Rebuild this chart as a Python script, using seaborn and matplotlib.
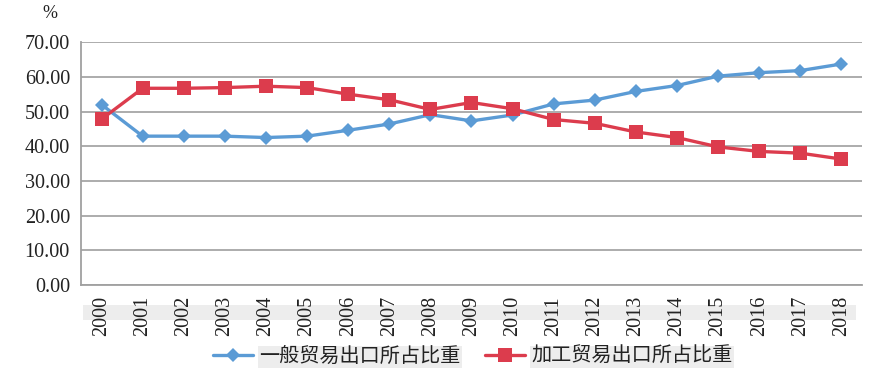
import pandas as pd
import matplotlib.pyplot as plt
import matplotlib.transforms as mtransforms
from matplotlib.patches import Rectangle
from matplotlib.ticker import FixedLocator
import seaborn as sns

# Data
years = list(range(2000, 2019))
general_share = [52.0, 42.9, 42.9, 42.9, 42.5, 42.9, 44.6, 46.4, 49.1, 47.3,
                 49.0, 52.2, 53.3, 55.8, 57.5, 60.2, 61.2, 61.8, 63.7]
processing_share = [47.8, 56.7, 56.7, 56.9, 57.3, 56.9, 55.0, 53.4, 50.6, 52.6,
                    50.8, 47.7, 46.6, 44.1, 42.5, 39.8, 38.5, 38.0, 36.3]
series_names = ["一般贸易出口所占比重", "加工贸易出口所占比重"]

df = pd.concat([
    pd.DataFrame({"year": years, "share": general_share, "type": series_names[0]}),
    pd.DataFrame({"year": years, "share": processing_share, "type": series_names[1]}),
])

sns.set_style("white")
plt.rcParams['font.family'] = ['Liberation Serif', 'Noto Sans CJK SC', 'DejaVu Sans']

fig = plt.figure(figsize=(8.92, 3.73), dpi=100)
ax = fig.add_axes([0.0908, 0.236, 0.8755, 0.651])

palette = {series_names[0]: "#5B9BD5", series_names[1]: "#DC3C4D"}
markers = {series_names[0]: "D", series_names[1]: "s"}
sizes = {series_names[0]: 7, series_names[1]: 9.5}

for name in series_names:
    sub = df[df["type"] == name]
    sns.lineplot(data=sub, x="year", y="share", ax=ax, color=palette[name],
                 marker=markers[name], markersize=sizes[name], markeredgewidth=0,
                 linewidth=2.4, label=name, legend=False)

ax.set_xlim(years[0] - 0.5, years[-1] + 0.5)
ax.set_ylim(0, 70)
ax.set_yticks(range(0, 71, 10))
ax.set_yticklabels([f"{v:.2f}" for v in range(0, 71, 10)])
ax.set_xticks(years)
ax.set_xticklabels([str(y) for y in years], rotation=90)
ax.xaxis.set_minor_locator(FixedLocator([y - 0.5 for y in years] + [years[-1] + 0.5]))
ax.tick_params(axis="x", which="major", length=0, pad=8, labelsize=14.5, colors="#222222")
ax.tick_params(axis="x", which="minor", length=5, width=1.2, color="#999999", direction="out")
ax.tick_params(axis="y", length=5, width=1.2, color="#999999", direction="out", labelsize=14.5,
               labelcolor="#222222", pad=3)
ax.set_xlabel("")
ax.set_ylabel("")

ax.grid(axis="y", color="#A6A6A6", linewidth=1.3)
ax.set_axisbelow(True)
for side in ["top", "right"]:
    ax.spines[side].set_visible(False)
for side in ["left", "bottom"]:
    ax.spines[side].set_color("#A0A0A0")
    ax.spines[side].set_linewidth(1.3)

# light grey band behind the year labels
trans = mtransforms.blended_transform_factory(ax.transAxes, fig.transFigure)
band = Rectangle((0.003, 1 - 320 / 373), 0.99, 15 / 373, transform=trans,
                 facecolor="#EDEDED", edgecolor="none", zorder=0, clip_on=False)
fig.add_artist(band)

fig.text(50 / 892, 1 - 13 / 373, "%", fontsize=13, ha="center", va="center",
         color="#222222")

handles, labels = ax.get_legend_handles_labels()
leg = fig.legend(handles, labels, loc="center", bbox_to_anchor=(0.53, 0.042), ncol=2,
                 frameon=False, fontsize=14.5, handlelength=2.0, columnspacing=1.2,
                 handletextpad=0.3)
for t in leg.get_texts():
    t.set_color("#222222")
    t.set_bbox(dict(facecolor="#EDEDED", edgecolor="none", pad=1))

fig.savefig("out.png", dpi=100)
